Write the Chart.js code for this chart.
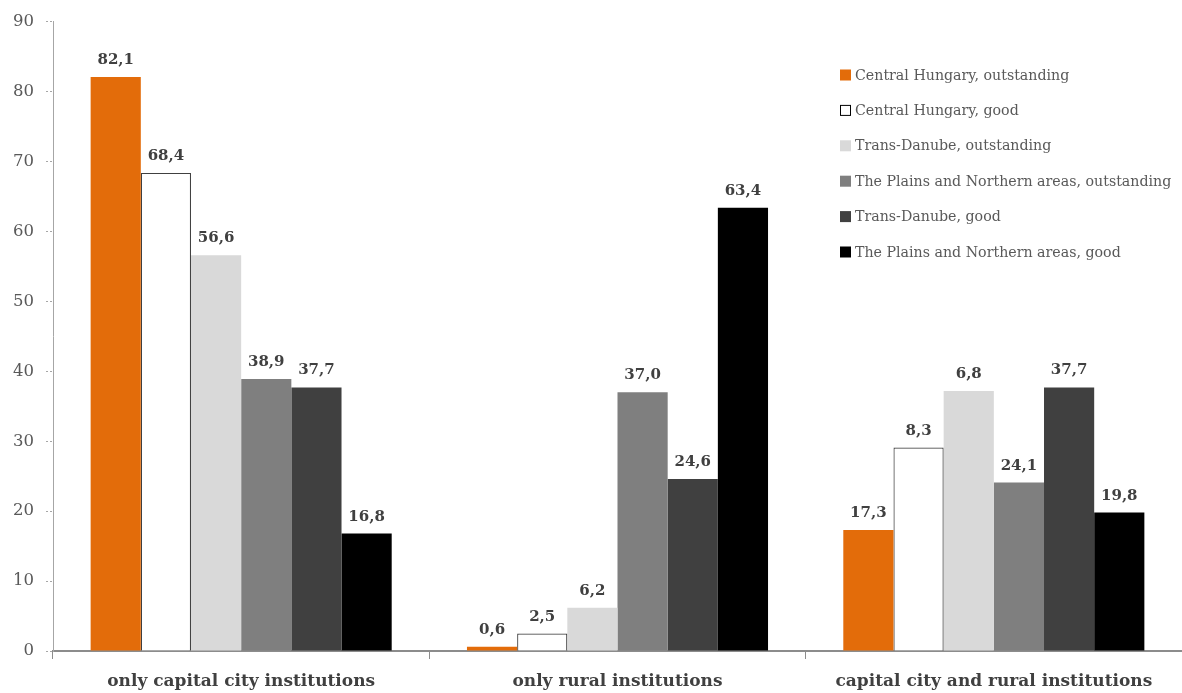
<!DOCTYPE html>
<html>
<head>
<meta charset="utf-8">
<title>Institutions by region</title>
<script src="https://cdn.jsdelivr.net/npm/chart.js@4.4.1/dist/chart.umd.min.js"></script>
<style>
  html, body { margin: 0; padding: 0; background: #ffffff; }
  #wrap { width: 1182px; height: 693px; position: relative; }
</style>
</head>
<body>
<div id="wrap"><canvas id="chart" width="1182" height="693"></canvas></div>
<script>
// Categories along the x axis
const categories = [
  'only capital city institutions',
  'only rural institutions',
  'capital city and rural institutions'
];

// Series names, shown in the legend
const seriesNames = [
  'Central Hungary, outstanding',
  'Central Hungary, good',
  'Trans-Danube, outstanding',
  'The Plains and Northern areas, outstanding',
  'Trans-Danube, good',
  'The Plains and Northern areas, good'
];

// Bar values (%), one array per series
const centralOutstanding = [82.1, 0.6, 17.3];
const centralGood        = [68.4, 2.5, 29.1];
const transOutstanding   = [56.6, 6.2, 37.2];
const plainsOutstanding  = [38.9, 37.0, 24.1];
const transGood          = [37.7, 24.6, 37.7];
const plainsGood         = [16.8, 63.4, 19.8];

// Value labels printed above the bars
const centralOutstandingLabels = ['82,1', '0,6', '17,3'];
const centralGoodLabels        = ['68,4', '2,5', '8,3'];
const transOutstandingLabels   = ['56,6', '6,2', '6,8'];
const plainsOutstandingLabels  = ['38,9', '37,0', '24,1'];
const transGoodLabels          = ['37,7', '24,6', '37,7'];
const plainsGoodLabels         = ['16,8', '63,4', '19,8'];

// Y axis tick values
const yTicks = [0, 10, 20, 30, 40, 50, 60, 70, 80, 90];

const SERIF = '"DejaVu Serif", "Liberation Serif", serif';

const seriesValues = [centralOutstanding, centralGood, transOutstanding, plainsOutstanding, transGood, plainsGood];
const seriesLabels = [centralOutstandingLabels, centralGoodLabels, transOutstandingLabels, plainsOutstandingLabels, transGoodLabels, plainsGoodLabels];
const fills   = ['#E36C0A', '#FFFFFF', '#D9D9D9', '#7F7F7F', '#404040', '#000000'];
const strokes = ['#E36C0A', '#404040', '#D9D9D9', '#7F7F7F', '#404040', '#000000'];

const datasets = seriesNames.map((name, i) => ({
  label: name,
  data: seriesValues[i],
  valueLabels: seriesLabels[i],
  backgroundColor: fills[i],
  borderColor: strokes[i],
  borderWidth: i === 1 ? 1.2 : 0,
  borderSkipped: 'bottom',
  categoryPercentage: 0.8,
  barPercentage: 1.0
}));

// Writes each bar's label above it
const valueLabelPlugin = {
  id: 'valueLabels',
  afterDatasetsDraw(chart) {
    const ctx = chart.ctx;
    ctx.save();
    ctx.font = 'bold 15px ' + SERIF;
    ctx.fillStyle = '#404040';
    ctx.textAlign = 'center';
    ctx.textBaseline = 'alphabetic';
    chart.data.datasets.forEach((ds, di) => {
      const meta = chart.getDatasetMeta(di);
      meta.data.forEach((bar, j) => {
        ctx.fillText(ds.valueLabels[j], bar.x, bar.y - 13);
      });
    });
    ctx.restore();
  }
};

// Legend stacked inside the plot, on the right
const sideLegendPlugin = {
  id: 'sideLegend',
  afterDraw(chart) {
    const ctx = chart.ctx;
    const x0 = 840, y0 = 75, step = 35.4, box = 11;
    ctx.save();
    ctx.font = '14.2px ' + SERIF;
    ctx.textBaseline = 'middle';
    ctx.textAlign = 'left';
    chart.data.datasets.forEach((ds, i) => {
      const y = y0 + i * step;
      ctx.fillStyle = ds.backgroundColor;
      ctx.fillRect(x0, y - box / 2, box, box);
      if (ds.borderWidth > 0) {
        ctx.strokeStyle = '#000000';
        ctx.lineWidth = 1;
        ctx.strokeRect(x0 + 0.5, y - box / 2 + 0.5, box - 1, box - 1);
      }
      ctx.fillStyle = '#595959';
      ctx.fillText(ds.label, x0 + 15, y + 1);
    });
    ctx.restore();
  }
};

new Chart(document.getElementById('chart'), {
  type: 'bar',
  data: { labels: categories, datasets },
  options: {
    responsive: false,
    animation: false,
    layout: { padding: { top: 13, right: 0, left: 0, bottom: 0 } },
    plugins: {
      legend: { display: false },
      tooltip: { enabled: false }
    },
    scales: {
      x: {
        offset: true,
        grid: {
          display: true,
          offset: true,
          drawOnChartArea: false,
          drawTicks: true,
          tickLength: 8,
          color: '#8C8C8C',
          lineWidth: 1
        },
        border: { display: true, color: '#8C8C8C', width: 2 },
        ticks: {
          color: '#404040',
          font: { family: SERIF, size: 17, weight: 'bold' },
          padding: 12,
          maxRotation: 0,
          autoSkip: false
        },
        afterFit(scale) { scale.height = 42; }
      },
      y: {
        min: 0,
        max: 90,
        afterBuildTicks(scale) { scale.ticks = yTicks.map(v => ({ value: v })); },
        grid: {
          display: true,
          drawOnChartArea: false,
          drawTicks: true,
          tickLength: 7,
          color: '#A6A6A6',
          tickBorderDash: [2, 2]
        },
        border: { display: true, color: '#A6A6A6', width: 1, dash: [2, 2] },
        ticks: {
          color: '#595959',
          font: { family: SERIF, size: 16.5 },
          padding: 12
        },
        afterFit(scale) { scale.width = 53; }
      }
    }
  },
  plugins: [valueLabelPlugin, sideLegendPlugin]
});
</script>
</body>
</html>
